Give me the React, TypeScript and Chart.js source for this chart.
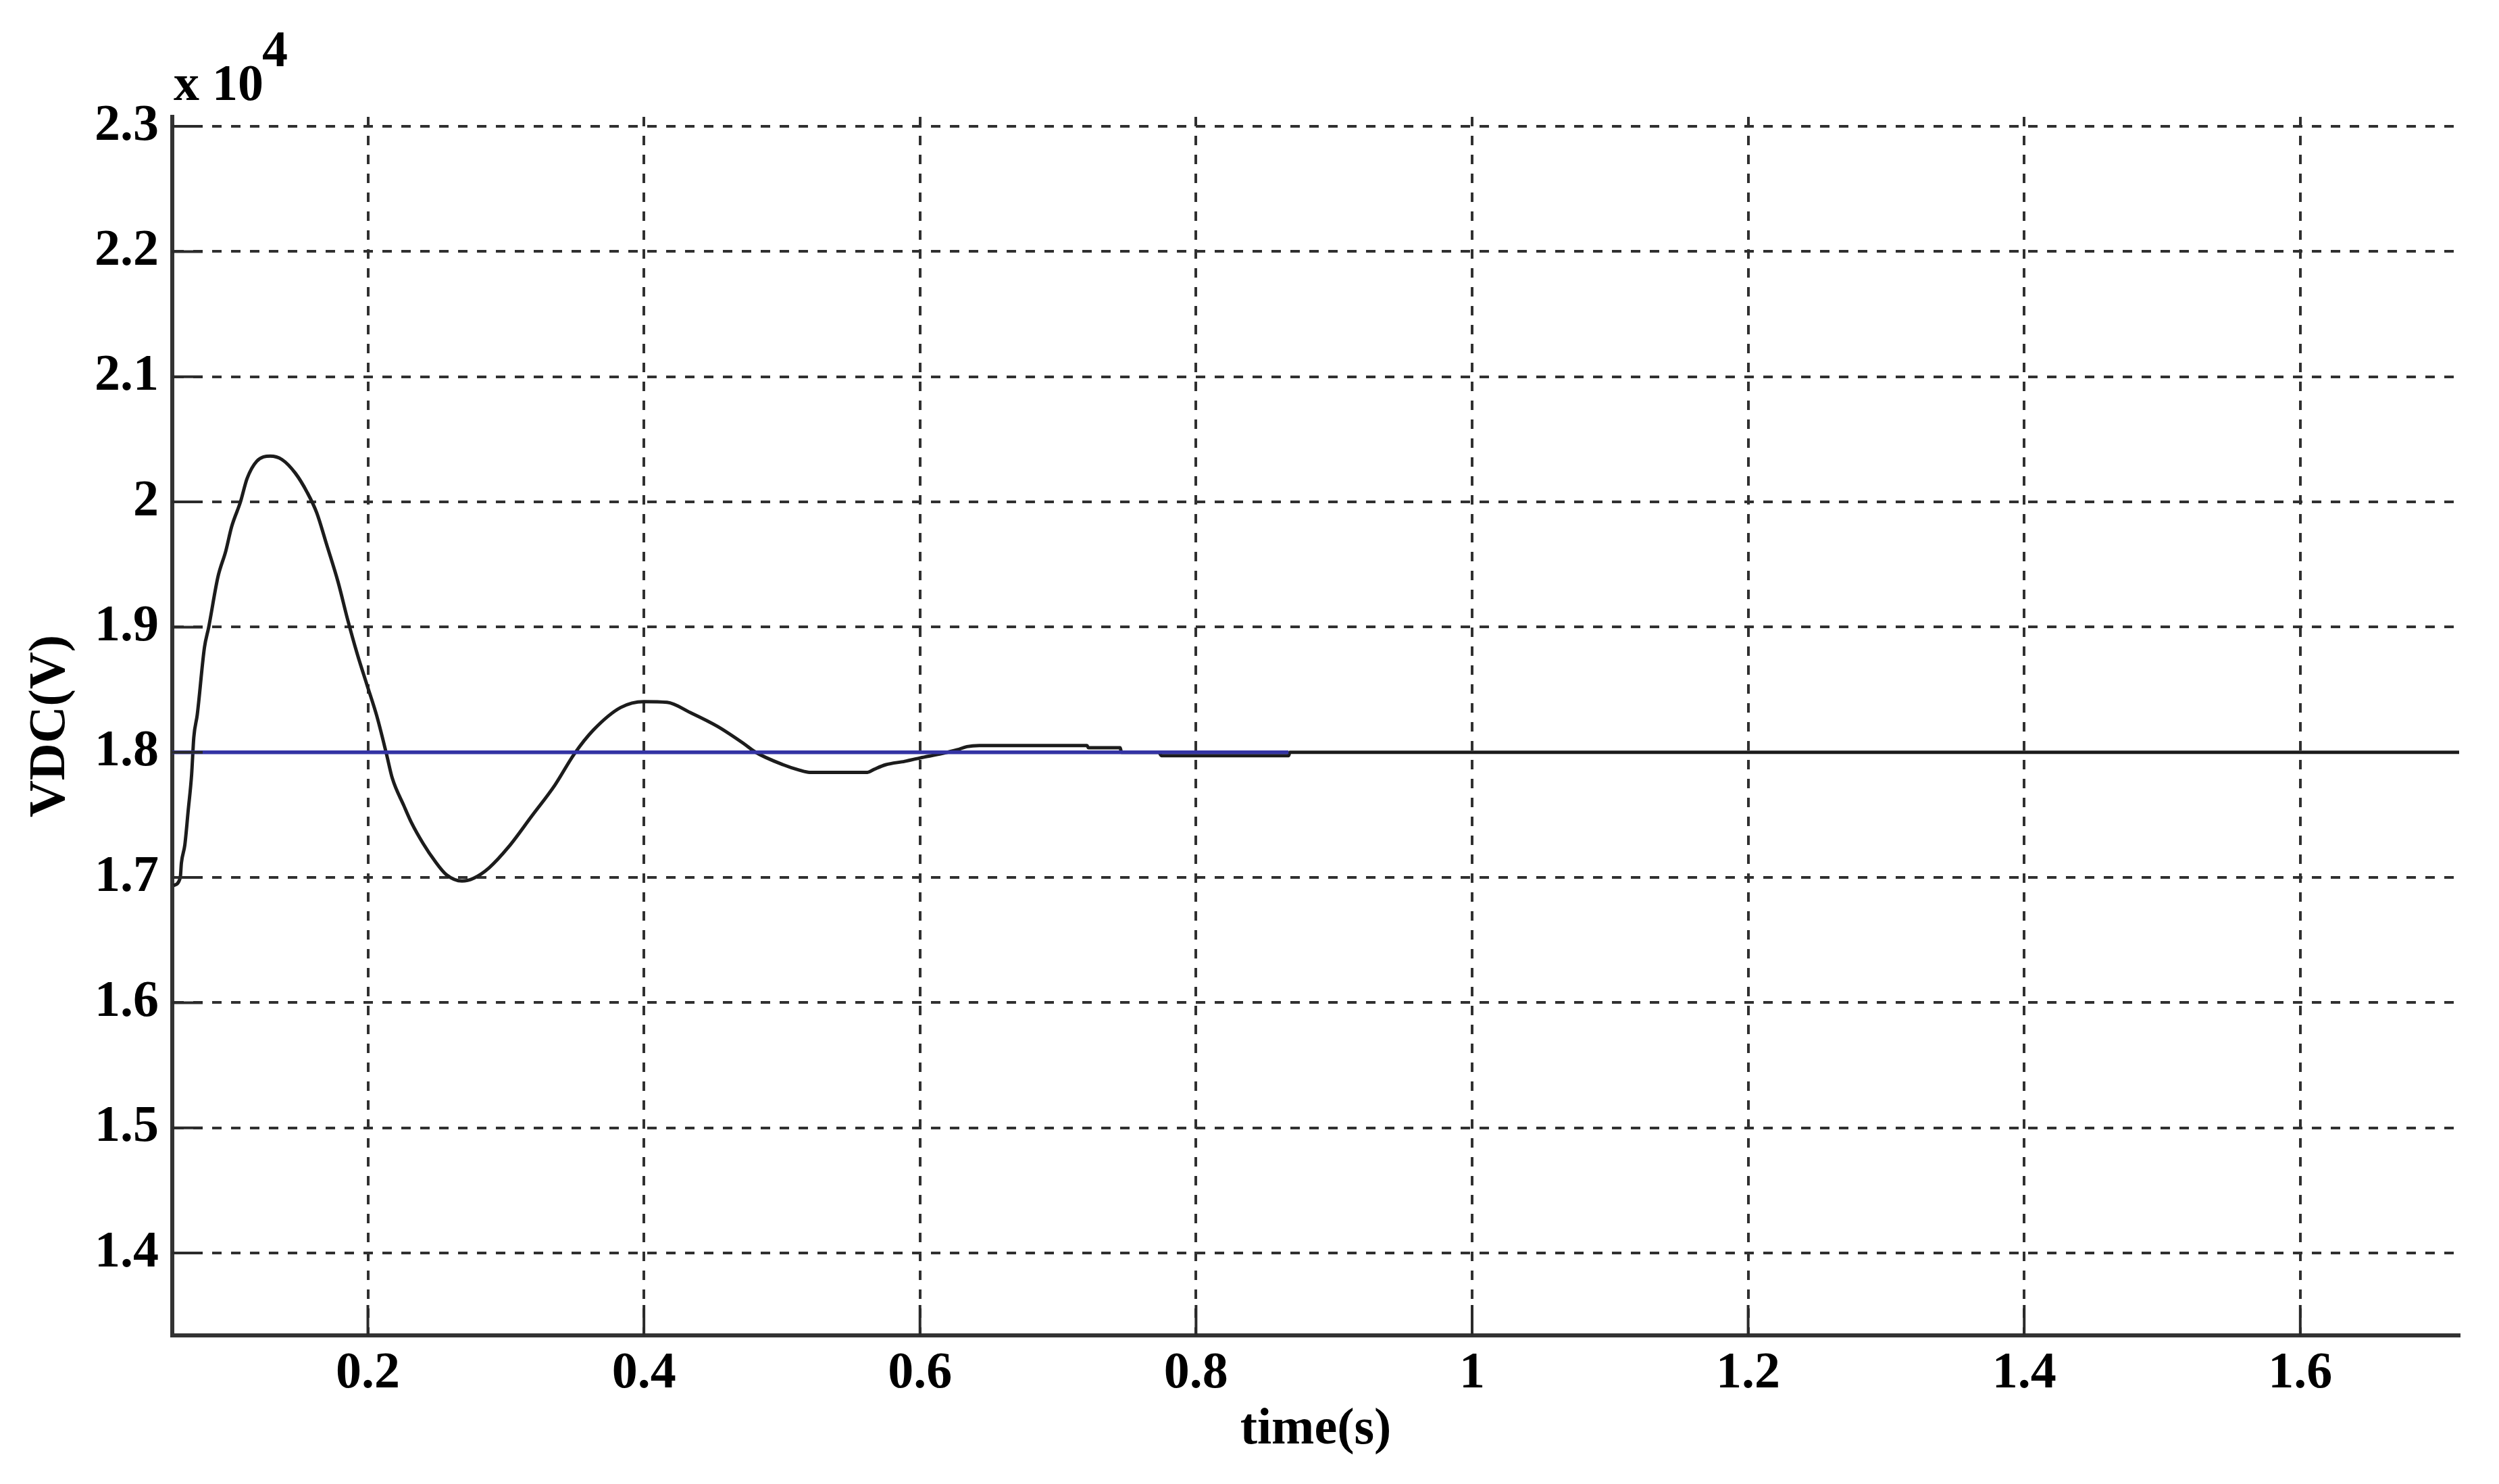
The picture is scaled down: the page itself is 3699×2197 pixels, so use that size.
import React, { useEffect, useRef } from "react";
import { Chart, registerables } from "chart.js";

Chart.register(...registerables);

// ---- data (time in s, DC-link voltage in V) ----
const timeS = [
  0.0592, 0.0641, 0.0649, 0.0674, 0.0698, 0.0723, 0.0739, 0.0764, 0.0816, 0.0847,
  0.0914, 0.0971, 0.1013, 0.1077, 0.1125, 0.1195, 0.1293, 0.1377, 0.1475, 0.156,
  0.163, 0.17, 0.1784, 0.1854, 0.1924, 0.1994, 0.2065, 0.2135, 0.2177, 0.2261,
  0.2317, 0.2401, 0.2485, 0.2569, 0.2682, 0.2766, 0.2878, 0.3018, 0.3187, 0.3355,
  0.3495, 0.3635, 0.3832, 0.4, 0.4168, 0.4337, 0.4533, 0.4724, 0.481, 0.501,
  0.513, 0.52, 0.562, 0.567, 0.575, 0.589, 0.6, 0.616, 0.627, 0.634,
  0.643, 0.721, 0.722, 0.745, 0.746, 0.773, 0.775, 0.867, 0.868, 1.7151,
];
const vdcV = [
  16935, 17000, 17115, 17260, 17530, 17820, 18120, 18300, 18837, 19000,
  19402, 19609, 19802, 20000, 20187, 20325, 20366, 20339, 20229, 20077,
  19912, 19664, 19361, 19058, 18782, 18537, 18289, 17986, 17793, 17573,
  17435, 17270, 17132, 17022, 16972, 16994, 17077, 17242, 17490, 17738,
  17986, 18179, 18358, 18405, 18399, 18317, 18207, 18069, 18000, 17900,
  17856, 17840, 17840, 17865, 17900, 17928, 17955, 17990, 18020, 18045,
  18054, 18054, 18036, 18036, 18000, 18000, 17973, 17973, 18000, 18000,
];
const refTimeS = [0.0583, 0.867];
const refVdcV = [18000, 18000];

const xTickValues = [0.2, 0.4, 0.6, 0.8, 1, 1.2, 1.4, 1.6];
const yTickValues = [14000, 15000, 16000, 17000, 18000, 19000, 20000, 21000, 22000, 23000];
const yScaleExponent = "4";
const xTitle = "time(s)";
const yTitle = "VDC(V)";

const X_MIN = 0.0583;
const X_MAX = 1.7151;
const Y_MIN = 13342;
const Y_MAX = 23076;

const W = 3699;
const H = 2197;
const FONT = '"Liberation Serif", "Times New Roman", serif';
const GRID = "#303030";
const TICK_LEN = 45;

const decorPlugin = {
  id: "decor",
  afterDraw(chart: any) {
    const { ctx, chartArea, scales } = chart;
    ctx.save();
    ctx.strokeStyle = "#2a2a2a";
    ctx.lineWidth = 4;
    ctx.setLineDash([]);
    scales.x.ticks.forEach((t: any) => {
      const px = scales.x.getPixelForValue(t.value);
      ctx.beginPath();
      ctx.moveTo(px, chartArea.bottom);
      ctx.lineTo(px, chartArea.bottom - TICK_LEN);
      ctx.stroke();
    });
    scales.y.ticks.forEach((t: any) => {
      const py = scales.y.getPixelForValue(t.value);
      ctx.beginPath();
      ctx.moveTo(chartArea.left, py);
      ctx.lineTo(chartArea.left + TICK_LEN, py);
      ctx.stroke();
    });
    ctx.fillStyle = "#000";
    ctx.font = `bold 76px ${FONT}`;
    ctx.textAlign = "left";
    ctx.textBaseline = "alphabetic";
    const base = "x 10";
    const bx = chartArea.left + 2;
    ctx.fillText(base, bx, chartArea.top - 25);
    const w = ctx.measureText(base).width;
    ctx.fillText(yScaleExponent, bx + w - 2, chartArea.top - 75);
    ctx.restore();
  },
};

export default function App() {
  const ref = useRef<HTMLCanvasElement | null>(null);

  useEffect(() => {
    if (!ref.current) return;
    const curve = timeS.map((t, i) => ({ x: t, y: vdcV[i] }));
    const refLine = refTimeS.map((t, i) => ({ x: t, y: refVdcV[i] }));
    const chart = new Chart(ref.current, {
      type: "line",
      data: {
        datasets: [
          {
            label: "Vdc reference",
            data: refLine,
            borderColor: "#3434a4",
            borderWidth: 5.5,
            pointRadius: 0,
            order: 0,
          },
          {
            label: "Vdc",
            data: curve,
            borderColor: "#1c1c1c",
            borderWidth: 5,
            pointRadius: 0,
            cubicInterpolationMode: "monotone",
            order: 1,
          },
        ],
      },
      options: {
        animation: false,
        responsive: false,
        devicePixelRatio: 1,
        layout: { padding: { top: 173, right: 59, left: 0, bottom: 0 } },
        plugins: { legend: { display: false }, tooltip: { enabled: false } },
        scales: {
          x: {
            type: "linear",
            min: X_MIN,
            max: X_MAX,
            afterBuildTicks: (s: any) => {
              s.ticks = xTickValues.map((v) => ({ value: v }));
            },
            afterFit: (s: any) => {
              s.height = 220;
            },
            grid: { color: GRID, lineWidth: 4, drawTicks: false },
            border: { display: true, color: "#333", width: 6, dash: [14, 14] },
            ticks: {
              color: "#000",
              padding: 12,
              maxRotation: 0,
              autoSkip: false,
              font: { family: FONT, size: 76, weight: "bold" },
              callback: (v: any) => String(+Number(v).toFixed(2)),
            },
            title: {
              display: true,
              text: xTitle,
              color: "#000",
              padding: { top: 0, bottom: 34 },
              font: { family: FONT, size: 76, weight: "bold" },
            },
          },
          y: {
            type: "linear",
            min: Y_MIN,
            max: Y_MAX,
            afterBuildTicks: (s: any) => {
              s.ticks = yTickValues.map((v) => ({ value: v }));
            },
            afterFit: (s: any) => {
              s.width = 255;
            },
            grid: { color: GRID, lineWidth: 4, drawTicks: false },
            border: { display: true, color: "#333", width: 6, dash: [14, 14] },
            ticks: {
              color: "#000",
              padding: 20,
              autoSkip: false,
              font: { family: FONT, size: 76, weight: "bold" },
              callback: (v: any) => String(+(Number(v) / 10000).toFixed(1)),
            },
            title: {
              display: true,
              text: yTitle,
              color: "#000",
              padding: { top: 30, bottom: 0 },
              font: { family: FONT, size: 76, weight: "bold" },
            },
          },
        },
      },
      plugins: [decorPlugin],
    } as any);
    return () => chart.destroy();
  }, []);

  return (
    <div style={{ position: "fixed", left: 0, top: 0, width: W, height: H, background: "#fff" }}>
      <canvas ref={ref} width={W} height={H} style={{ width: W, height: H, display: "block" }} />
    </div>
  );
}
